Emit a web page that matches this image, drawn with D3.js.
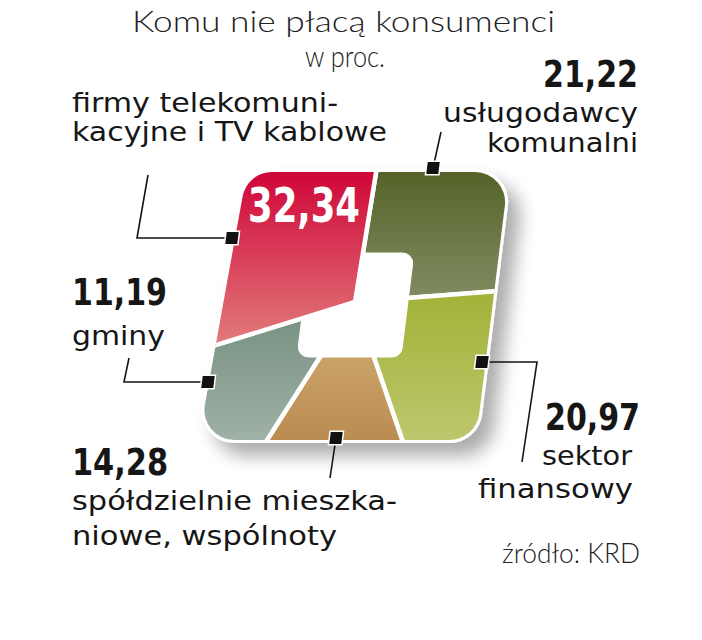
<!DOCTYPE html>
<html><head><meta charset="utf-8">
<script src="https://cdn.jsdelivr.net/npm/d3@7"></script>
<style>
body{margin:0;background:#fff}
.reg{font-family:"DejaVu Sans",sans-serif;fill:#161616}
.num{font-family:"DejaVu Sans Condensed","DejaVu Sans",sans-serif;font-stretch:condensed;font-weight:bold;fill:#161616}
.light{font-family:Lato,"Roboto",sans-serif;font-weight:300;fill:#222}
</style>
</head><body>
<svg id="c" width="702" height="640"></svg>
<script>
// ---------- data ----------
const categories = ["firmy telekomunikacyjne i TV kablowe", "usługodawcy komunalni", "sektor finansowy", "spółdzielnie mieszkaniowe, wspólnoty", "gminy"];
const values = [32.34, 21.22, 20.97, 14.28, 11.19];
const valueLabels = ["32,34", "21,22", "20,97", "14,28", "11,19"];
const labelLines = [["firmy telekomuni-", "kacyjne i TV kablowe"], ["usługodawcy", "komunalni"], ["sektor", "finansowy"], ["spółdzielnie mieszka-", "niowe, wspólnoty"], ["gminy"]];
const titleLines = ["Komu nie płacą konsumenci", "w proc."];
const sourceText = "źródło: KRD";

// ---------- styles / layout ----------
const sliceColors = [["#cf0638", "#e27b7b"], ["#55632a", "#808c60"], ["#a2b237", "#bec66d"], ["#caa268", "#bb8c52"], ["#789283", "#a0b1a5"]];
const center = [355, 302];
const outerCorners = [[247, 172], [509, 172], [476, 440], [198.5, 440]];
const holeCorners = [[310, 253], [414, 253], [401, 357], [297, 357]];
const startA = -1.871;

const svg = d3.select("#c");
const defs = svg.append("defs");

function roundedPoly(pts, r) {
  const p = d3.path(), n = pts.length;
  const m = [(pts[n - 1][0] + pts[0][0]) / 2, (pts[n - 1][1] + pts[0][1]) / 2];
  p.moveTo(m[0], m[1]);
  for (let i = 0; i < n; i++) {
    const a = pts[i], b = pts[(i + 1) % n];
    p.arcTo(a[0], a[1], b[0], b[1], r);
  }
  p.closePath();
  return p.toString();
}
const outerD = roundedPoly(outerCorners, 30);
const holeD = roundedPoly(holeCorners, 10);

// shadow filter
const f = defs.append("filter").attr("id", "sh").attr("x", "-20%").attr("y", "-20%").attr("width", "150%").attr("height", "150%");
f.append("feGaussianBlur").attr("in", "SourceAlpha").attr("stdDeviation", 9).attr("result", "b");
f.append("feOffset").attr("in", "b").attr("dx", 12).attr("dy", 13).attr("result", "o");
f.append("feComponentTransfer").attr("in", "o").attr("result", "o2")
  .append("feFuncA").attr("type", "linear").attr("slope", 0.33);
const fm = f.append("feMerge");
fm.append("feMergeNode").attr("in", "o2");
fm.append("feMergeNode").attr("in", "SourceGraphic");

defs.append("clipPath").attr("id", "clipOuter").append("path").attr("d", outerD);

// pie
const pie = d3.pie().sort(null).value(d => d).startAngle(startA).endAngle(startA + 2 * Math.PI);
const arcs = pie(values);
const arc = d3.arc().innerRadius(0).outerRadius(420);

// compute vertical gradient extents of each slice by sampling boundaries
const tmp = svg.append("g").attr("opacity", 0);
const samples = [];
[outerD, holeD].forEach(d => {
  const el = tmp.append("path").attr("d", d).node();
  const L = el.getTotalLength();
  for (let s = 0; s <= L; s += 1) { const p = el.getPointAtLength(s); samples.push([p.x, p.y]); }
});
tmp.remove();
function inSlice(p, a) {
  let ang = Math.atan2(p[0] - center[0], -(p[1] - center[1]));
  while (ang < a.startAngle) ang += 2 * Math.PI;
  while (ang > a.startAngle + 2 * Math.PI) ang -= 2 * Math.PI;
  return ang <= a.endAngle;
}
arcs.forEach((a, i) => {
  const ys = samples.filter(p => inSlice(p, a)).map(p => p[1]);
  const ext = d3.extent(ys);
  // slice paths are drawn translated to the center, so express gradient in that frame
  const g = defs.append("linearGradient").attr("id", "gr" + i).attr("gradientUnits", "userSpaceOnUse")
    .attr("x1", 0).attr("x2", 0).attr("y1", ext[0] - center[1]).attr("y2", ext[1] - center[1]);
  g.append("stop").attr("offset", 0).attr("stop-color", sliceColors[i][0]);
  g.append("stop").attr("offset", 1).attr("stop-color", sliceColors[i][1]);
});

// base with shadow and white rim
svg.append("path").attr("d", outerD).attr("fill", "#fff").attr("stroke", "#fff").attr("stroke-width", 6).attr("filter", "url(#sh)");

const cg = svg.append("g").attr("clip-path", "url(#clipOuter)");
const others = arcs.map((a, i) => ({ a, i })).filter(d => d.i !== 0);
cg.selectAll("path.sl").data(others).join("path").attr("class", "sl")
  .attr("transform", `translate(${center})`)
  .attr("d", d => arc(d.a)).attr("fill", d => `url(#gr${d.i})`)
  .attr("stroke", "#fff").attr("stroke-width", 4.5).attr("stroke-linejoin", "round");
cg.append("path").attr("d", holeD).attr("fill", "#fff").attr("stroke", "#fff").attr("stroke-width", 1);
cg.append("path").attr("transform", `translate(${center})`)
  .attr("d", arc(arcs[0])).attr("fill", "url(#gr0)")
  .attr("stroke", "#fff").attr("stroke-width", 4.5).attr("stroke-linejoin", "round");

// annotations: markers + leaders
const leaders = [
  [[232, 238], [137, 238], [148, 175]],
  [[433, 168], [441, 132]],
  [[482, 362], [537, 362], [522, 462]],
  [[336, 438], [330, 478]],
  [[208, 382], [124, 382], [129, 358]]
];
svg.append("g").selectAll("path").data(leaders).join("path")
  .attr("d", d => d3.line()(d)).attr("fill", "none").attr("stroke", "#151515").attr("stroke-width", 1.6);
svg.append("g").selectAll("rect").data(leaders).join("rect")
  .attr("x", -6).attr("y", -6).attr("width", 12).attr("height", 12)
  .attr("transform", d => `translate(${d[0]}) skewX(-7)`)
  .attr("fill", "#111").attr("stroke", "#fff").attr("stroke-width", 3).attr("paint-order", "stroke");

// texts
const texts = [
  { t: titleLines[0], x: 132, y: 32, w: 423, c: "light", s: 29 },
  { t: titleLines[1], x: 305, y: 67, w: 80, c: "light", s: 29 },
  { t: labelLines[0][0], x: 72, y: 112, w: 266, c: "reg", s: 27 },
  { t: labelLines[0][1], x: 72, y: 141, w: 315, c: "reg", s: 27 },
  { t: valueLabels[0], x: 248, y: 222, w: 112, c: "num", s: 48, fill: "#fff" },
  { t: valueLabels[1], x: 543, y: 87, w: 95, c: "num", s: 37 },
  { t: labelLines[1][0], x: 443, y: 122, w: 195, c: "reg", s: 27 },
  { t: labelLines[1][1], x: 487, y: 152, w: 151, c: "reg", s: 27 },
  { t: valueLabels[4], x: 72, y: 305, w: 95, c: "num", s: 37 },
  { t: labelLines[4][0], x: 72, y: 345, w: 93, c: "reg", s: 27 },
  { t: valueLabels[2], x: 545, y: 430, w: 95, c: "num", s: 37 },
  { t: labelLines[2][0], x: 542, y: 465, w: 90, c: "reg", s: 27 },
  { t: labelLines[2][1], x: 478, y: 498, w: 155, c: "reg", s: 27 },
  { t: valueLabels[3], x: 72, y: 475, w: 96, c: "num", s: 37 },
  { t: labelLines[3][0], x: 72, y: 510, w: 325, c: "reg", s: 27 },
  { t: labelLines[3][1], x: 72, y: 545, w: 265, c: "reg", s: 27 },
  { t: sourceText, x: 502, y: 563, w: 138, c: "light", s: 28 }
];
svg.append("g").selectAll("text").data(texts).join("text")
  .attr("class", d => d.c).attr("x", d => d.x).attr("y", d => d.y)
  .attr("font-size", d => d.s).attr("textLength", d => d.w)
  .attr("lengthAdjust", "spacingAndGlyphs")
  .style("fill", d => d.fill || null)
  .text(d => d.t);
</script>
</body></html>
